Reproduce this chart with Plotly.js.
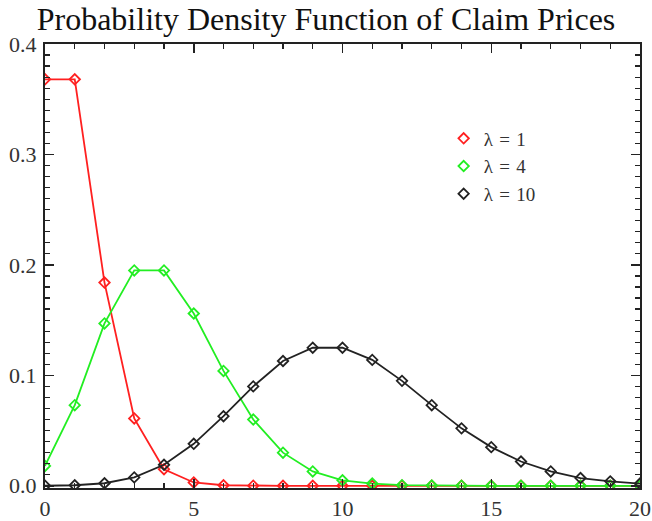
<!DOCTYPE html>
<html>
<head>
<meta charset="utf-8">
<script src="https://cdn.plot.ly/plotly-3.0.1.min.js"></script>
<style>html,body{margin:0;padding:0;background:#fff;}#chart{width:652px;height:521px;}</style>
</head>
<body>
<div id="chart"></div>
<script>
var k = [0,1,2,3,4,5,6,7,8,9,10,11,12,13,14,15,16,17,18,19,20];
var lambda1 = [0.368,0.368,0.184,0.061,0.015,0.003,0.0005,0.0001,0,0,0,0,0,0,0,0,0,0,0,0,0];
var lambda4 = [0.018,0.073,0.147,0.195,0.195,0.156,0.104,0.060,0.030,0.013,0.005,0.002,0.0006,0.0002,0.0001,0,0,0,0,0,0];
var lambda10 = [0.00005,0.0005,0.0023,0.0076,0.019,0.038,0.063,0.090,0.113,0.125,0.125,0.114,0.095,0.073,0.052,0.035,0.022,0.013,0.007,0.004,0.002];
var seriesNames = ['\u03bb\u2004=\u20041','\u03bb\u2004=\u20044','\u03bb\u2004=\u200410'];
var seriesColors = ['#ff2020','#22ee22','#222222'];
var seriesData = [lambda1, lambda4, lambda10];

var traces = [];
seriesData.forEach(function(d,i){
  traces.push({x:k, y:d, mode:'lines+markers', showlegend:false, cliponaxis:true,
    line:{color:seriesColors[i], width:1.8},
    marker:{symbol:'diamond-open', size:8, color:seriesColors[i], line:{width:1.8}}});
});
seriesData.forEach(function(d,i){
  traces.push({x:[null], y:[null], mode:'markers', name:seriesNames[i], showlegend:true,
    marker:{symbol:'diamond-open', size:8, color:seriesColors[i], line:{width:1.8}}});
});

var fam = "'Liberation Serif', 'Times New Roman', Times, serif";
var layout = {
  width:652, height:521,
  margin:{l:45, r:12, t:44, b:33},
  paper_bgcolor:'#fff', plot_bgcolor:'#fff',
  font:{family:fam},
  title:{text:'Probability Density Function of Claim Prices', x:0.5, xanchor:'center', y:0.963, yanchor:'middle',
    font:{family:fam, size:32, color:'#111'}},
  xaxis:{range:[0,20], tickvals:[0,5,10,15,20], ticks:'inside', ticklen:9, tickwidth:1.5, tickcolor:'#222',
    minor:{dtick:1, ticks:'inside', ticklen:5, tickwidth:1.2, tickcolor:'#222'},
    showline:true, linecolor:'#222', linewidth:2, mirror:'ticks', showgrid:false, zeroline:false,
    tickfont:{family:fam, size:22, color:'#333'}},
  yaxis:{range:[-0.002,0.4], tickvals:[0,0.1,0.2,0.3,0.4], ticktext:['0.0','0.1','0.2','0.3','0.4'],
    ticks:'inside', ticklen:9, tickwidth:1.5, tickcolor:'#222', ticklabelstandoff:2,
    minor:{dtick:0.01, ticks:'inside', ticklen:5, tickwidth:1.2, tickcolor:'#222'},
    showline:true, linecolor:'#222', linewidth:2, mirror:'ticks', showgrid:false, zeroline:false,
    tickfont:{family:fam, size:22, color:'#333'}},
  legend:{x:0.67, y:0.83, xanchor:'left', yanchor:'top', bgcolor:'rgba(0,0,0,0)', borderwidth:0,
    font:{family:fam, size:19, color:'#333'}, tracegroupgap:0, itemwidth:30}
};
Plotly.newPlot('chart', traces, layout, {displayModeBar:false, staticPlot:true});
</script>
</body>
</html>
